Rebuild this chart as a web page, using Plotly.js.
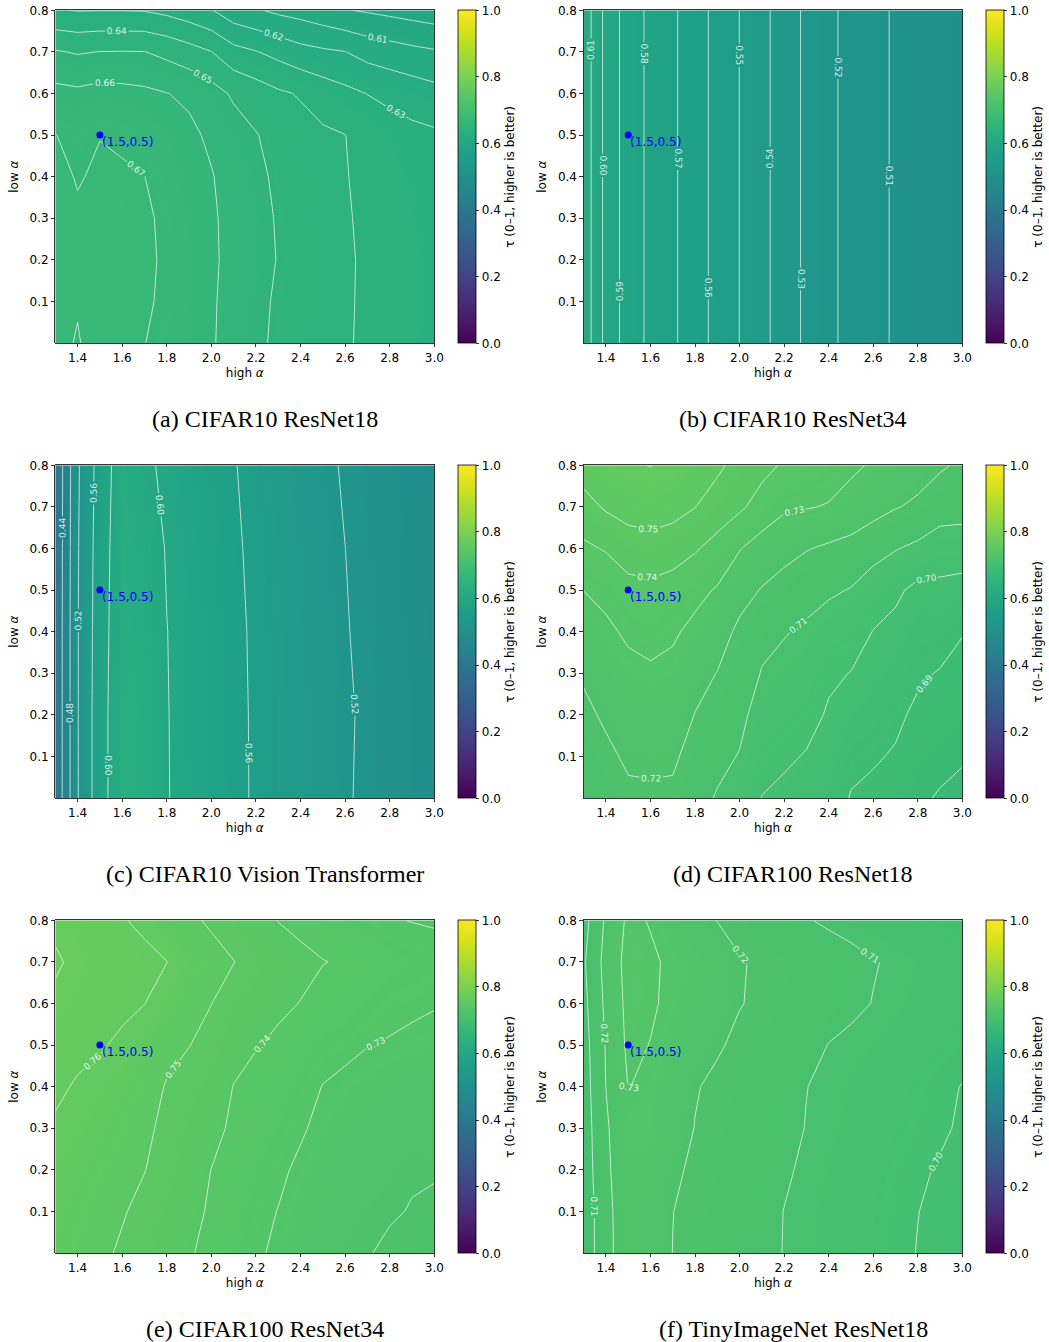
<!DOCTYPE html>
<html><head><meta charset="utf-8">
<script src="https://cdn.plot.ly/plotly-3.0.1.min.js"></script>
<style>body{margin:0;background:#fff}#chart{width:1049px;height:1342px}</style>
</head><body><div id="chart"></div>
<script>
// ---------------- data ----------------
const HIGH_ALPHA = [1.3,1.4,1.5,1.6,1.7,1.8,1.9,2.0,2.1,2.2,2.3,2.4,2.5,2.6,2.7,2.8,2.9,3.0];
const LOW_ALPHA = [0.0,0.1,0.2,0.3,0.4,0.5,0.6,0.7,0.8];
const LOW_ALPHA_B = [0.0,0.8];
const LOW_ALPHA_C = [0.0,0.2,0.4,0.6,0.8];

// (a) CIFAR10 ResNet18
const TAU_A = [
 [0.672,0.6695,0.673,0.6715,0.6702,0.6668,0.6635,0.6608,0.6568,0.6522,0.648,0.6458,0.6435,0.6412,0.638,0.6362,0.6348,0.6335],
 [0.6725,0.6705,0.674,0.6735,0.6715,0.668,0.6645,0.661,0.657,0.6528,0.6485,0.646,0.6437,0.6413,0.6383,0.6364,0.635,0.6338],
 [0.673,0.6715,0.6745,0.674,0.6725,0.668,0.6648,0.6612,0.6578,0.6542,0.6495,0.6465,0.644,0.6414,0.6384,0.6365,0.635,0.6337],
 [0.673,0.6712,0.6742,0.6735,0.672,0.6675,0.6642,0.661,0.6577,0.6538,0.649,0.646,0.6435,0.641,0.638,0.636,0.6345,0.6332],
 [0.6725,0.6694,0.6712,0.6712,0.6701,0.6662,0.6628,0.6605,0.6565,0.6525,0.648,0.6455,0.643,0.6405,0.6375,0.6355,0.634,0.6325],
 [0.6702,0.6675,0.6698,0.6685,0.6672,0.6648,0.6618,0.6585,0.6545,0.6505,0.6465,0.6435,0.6415,0.6401,0.637,0.6345,0.6325,0.6315],
 [0.663,0.662,0.6635,0.663,0.662,0.6602,0.6585,0.654,0.6485,0.645,0.6415,0.6392,0.6355,0.6325,0.6298,0.6275,0.6255,0.6233],
 [0.6508,0.6492,0.6502,0.6503,0.6502,0.6475,0.644,0.6402,0.6333,0.6305,0.627,0.6233,0.6215,0.6202,0.6165,0.6145,0.6125,0.611],
 [0.6305,0.6296,0.6298,0.6298,0.6295,0.6275,0.6245,0.6205,0.614,0.611,0.608,0.6062,0.6035,0.6005,0.599,0.5975,0.596,0.5945]
];
// (b) CIFAR10 ResNet34
const TAU_B = [
 [0.6165,0.597,0.5855,0.5777,0.5716,0.5644,0.557,0.5499,0.5428,0.5353,0.5281,0.522,0.5172,0.513,0.5088,0.5055,0.502,0.499],
 [0.6165,0.597,0.5855,0.5777,0.5716,0.5644,0.557,0.5499,0.5428,0.5353,0.5281,0.522,0.5172,0.513,0.5088,0.5055,0.502,0.499]
];
// (c) CIFAR10 Vision Transformer
const TAU_C = [
 [0.405,0.518,0.583,0.630,0.624,0.6015,0.590,0.5785,0.5675,0.5565,0.548,0.5395,0.531,0.5225,0.5155,0.507,0.499,0.491],
 [0.405,0.518,0.583,0.630,0.6235,0.6012,0.5898,0.5782,0.5672,0.5563,0.5482,0.5398,0.5315,0.5232,0.516,0.5075,0.4995,0.4915],
 [0.405,0.518,0.581,0.628,0.621,0.6005,0.589,0.5775,0.5665,0.5555,0.547,0.5385,0.530,0.5215,0.5145,0.506,0.498,0.490],
 [0.404,0.517,0.579,0.626,0.618,0.598,0.587,0.5755,0.5645,0.5535,0.545,0.5365,0.528,0.5201,0.513,0.505,0.497,0.489],
 [0.403,0.515,0.576,0.622,0.606,0.594,0.583,0.572,0.5617,0.551,0.5425,0.534,0.5255,0.5175,0.511,0.503,0.495,0.487]
];
// (d) CIFAR100 ResNet18
const TAU_D = [
 [0.7135,0.716,0.7182,0.7185,0.7182,0.7135,0.7092,0.7062,0.6998,0.6982,0.6968,0.6948,0.6895,0.6882,0.6855,0.6815,0.6792,0.6777],
 [0.7155,0.718,0.7215,0.7218,0.7215,0.7165,0.7125,0.7095,0.7028,0.7012,0.6995,0.6972,0.692,0.6908,0.6893,0.6845,0.6825,0.6808],
 [0.7178,0.7215,0.7245,0.7248,0.7243,0.7198,0.7158,0.7125,0.7058,0.7042,0.7025,0.6992,0.6955,0.6935,0.6915,0.6885,0.6858,0.6838],
 [0.7212,0.7255,0.7275,0.7285,0.7278,0.7228,0.7198,0.7155,0.7095,0.7072,0.7055,0.7012,0.6998,0.6962,0.6945,0.6912,0.6895,0.6868],
 [0.7255,0.7282,0.7315,0.7335,0.7312,0.7278,0.7238,0.7182,0.7125,0.7106,0.7085,0.7052,0.7035,0.6998,0.6975,0.6935,0.6938,0.6905],
 [0.7301,0.7325,0.7365,0.7375,0.7358,0.7325,0.7292,0.7232,0.7195,0.717,0.7135,0.7115,0.7095,0.7045,0.7018,0.6975,0.6978,0.6962],
 [0.7382,0.7408,0.7455,0.7465,0.7445,0.741,0.7365,0.7305,0.7255,0.7225,0.7205,0.7185,0.717,0.714,0.7105,0.708,0.7048,0.7055],
 [0.7465,0.7512,0.7535,0.7545,0.7535,0.7502,0.7455,0.7415,0.7365,0.7315,0.7305,0.7295,0.7262,0.7232,0.7205,0.7185,0.7145,0.7132],
 [0.7545,0.7575,0.759,0.7602,0.7585,0.7555,0.7518,0.7468,0.7425,0.739,0.7364,0.7339,0.7318,0.7289,0.7263,0.7236,0.7212,0.7185]
];
// (e) CIFAR100 ResNet34
const TAU_E = [
 [0.7552,0.7535,0.7515,0.749,0.7465,0.7437,0.7405,0.7385,0.7345,0.7312,0.7285,0.7255,0.7232,0.7212,0.7205,0.7185,0.7165,0.7148],
 [0.7558,0.7545,0.7525,0.7506,0.748,0.7452,0.7418,0.7392,0.7355,0.7322,0.7298,0.7268,0.7245,0.7225,0.7215,0.7208,0.7196,0.7175],
 [0.7568,0.7558,0.754,0.7522,0.7502,0.747,0.7435,0.7399,0.7368,0.7338,0.7315,0.7285,0.7262,0.7242,0.7228,0.722,0.7208,0.7212],
 [0.7585,0.7575,0.7558,0.754,0.7515,0.7482,0.745,0.7425,0.7385,0.7352,0.7335,0.731,0.7278,0.726,0.7245,0.7235,0.7225,0.7232],
 [0.7622,0.7588,0.7575,0.7558,0.7532,0.7495,0.7468,0.7445,0.7398,0.737,0.7355,0.7328,0.7298,0.7282,0.7268,0.7255,0.7245,0.7252],
 [0.7652,0.763,0.7608,0.7585,0.7558,0.752,0.7502,0.7475,0.7428,0.7405,0.7385,0.7358,0.7328,0.7318,0.7302,0.7295,0.7282,0.7275],
 [0.7682,0.7662,0.764,0.7618,0.7601,0.7568,0.7535,0.7501,0.7462,0.7438,0.7415,0.7398,0.7365,0.7352,0.7335,0.7318,0.7315,0.7305],
 [0.7712,0.768,0.7655,0.7635,0.7618,0.7601,0.7555,0.753,0.7502,0.7465,0.744,0.742,0.7403,0.739,0.737,0.735,0.7338,0.7325],
 [0.768,0.7662,0.764,0.7605,0.7585,0.7546,0.7515,0.7488,0.7456,0.7426,0.7398,0.738,0.7355,0.7338,0.7325,0.7305,0.7298,0.7294]
];
// (f) TinyImageNet ResNet18
const TAU_F = [
 [0.7035,0.717,0.726,0.7245,0.7199,0.7178,0.7158,0.7138,0.7118,0.7098,0.708,0.7063,0.7048,0.7033,0.7016,0.6998,0.6983,0.697],
 [0.7035,0.7172,0.7262,0.7255,0.7201,0.718,0.716,0.714,0.712,0.7099,0.7081,0.7065,0.705,0.7035,0.7018,0.7001,0.6987,0.6973],
 [0.7045,0.718,0.7272,0.7268,0.7212,0.7188,0.717,0.715,0.713,0.7108,0.709,0.7072,0.7056,0.704,0.7024,0.7008,0.6995,0.698],
 [0.705,0.7187,0.728,0.7282,0.7238,0.7198,0.7175,0.7155,0.7136,0.7118,0.7098,0.708,0.7065,0.705,0.7036,0.7022,0.7008,0.6993],
 [0.7055,0.7201,0.7302,0.7285,0.7245,0.7205,0.7185,0.7165,0.7146,0.7126,0.7101,0.7088,0.7072,0.7058,0.7044,0.703,0.7012,0.6998],
 [0.7062,0.7207,0.7318,0.7298,0.7265,0.7235,0.7208,0.7185,0.7165,0.7145,0.713,0.7098,0.7085,0.7072,0.706,0.7048,0.7035,0.7022],
 [0.7075,0.722,0.7325,0.731,0.7282,0.7262,0.7235,0.7203,0.7188,0.7168,0.715,0.7132,0.7115,0.7098,0.708,0.7065,0.705,0.7035],
 [0.7088,0.7232,0.7332,0.7312,0.7285,0.727,0.7245,0.7205,0.719,0.7175,0.7158,0.714,0.7124,0.7104,0.709,0.7072,0.7058,0.7042],
 [0.7065,0.7215,0.7318,0.7295,0.7262,0.7228,0.7198,0.7178,0.7148,0.7125,0.7105,0.7088,0.7072,0.7058,0.7045,0.7032,0.702,0.7008]
];

const CAPTIONS = ["(a) CIFAR10 ResNet18","(b) CIFAR10 ResNet34","(c) CIFAR10 Vision Transformer",
                  "(d) CIFAR100 ResNet18","(e) CIFAR100 ResNet34","(f) TinyImageNet ResNet18"];
const DEFAULT_X = [1.5], DEFAULT_Y = [0.5], DEFAULT_LABEL = "(1.5,0.5)";
const X_TICKS = [1.4,1.6,1.8,2.0,2.2,2.4,2.6,2.8,3.0];
const Y_TICKS = [0.1,0.2,0.3,0.4,0.5,0.6,0.7,0.8];
const CB_TICKS = [0,0.2,0.4,0.6,0.8,1.0];
const CB_TITLE = "τ (0–1, higher is better)";

// contour levels [start, end, step]
const LEVELS = [[0.60,0.675,0.01],[0.51,0.615,0.01],[0.44,0.605,0.04],[0.68,0.765,0.01],[0.72,0.775,0.01],[0.70,0.735,0.01]];
const Z_ALL = [TAU_A,TAU_B,TAU_C,TAU_D,TAU_E,TAU_F];
const Y_ALL = [LOW_ALPHA,LOW_ALPHA_B,LOW_ALPHA_C,LOW_ALPHA,LOW_ALPHA,LOW_ALPHA];

// ---------------- layout ----------------
const W = 1049, H = 1342;
const COLS = [[55.3,434.3],[583.7,962.3]];
const ROWS = [[10.3,343],[465.3,798],[920.3,1253]];
const CBX = [457.5,985.5];
const CAP_X = [265,793];
const CAP_Y = [419,874,1329];
const VIRIDIS = [[0,'#440154'],[0.0627,'#48186a'],[0.1255,'#472d7b'],[0.1882,'#424086'],[0.251,'#3b528b'],
 [0.3137,'#33638d'],[0.3765,'#2c728e'],[0.4392,'#26828e'],[0.502,'#21918c'],[0.5647,'#1fa088'],
 [0.6275,'#28ae80'],[0.6902,'#3fbc73'],[0.7529,'#5ec962'],[0.8157,'#84d44b'],[0.8784,'#addc30'],
 [0.9412,'#d8e219'],[1,'#fde725']];
const FONT = 'DejaVu Sans, sans-serif';

const traces = [];
const layout = {
  width: W, height: H, margin: {l:0,r:0,t:0,b:0},
  paper_bgcolor: '#fff', plot_bgcolor: '#fff', showlegend: false,
  font: {family: FONT, size: 12, color: '#000'},
  annotations: []
};

for (let i = 0; i < 6; i++) {
  const r = Math.floor(i/2), c = i % 2;
  const sfx = i === 0 ? '' : String(i+1);
  const xa = 'x' + sfx, ya = 'y' + sfx;
  traces.push({
    type: 'heatmap', x: HIGH_ALPHA, y: Y_ALL[i], z: Z_ALL[i], xaxis: xa, yaxis: ya,
    zsmooth: 'best', colorscale: VIRIDIS, zmin: 0, zmax: 1, hoverinfo: 'skip',
    colorbar: {
      x: CBX[c]/W, xanchor: 'left', xpad: 0, xref: 'paper',
      y: 1 - ROWS[r][0]/H, yanchor: 'top', ypad: 0, yref: 'paper',
      len: (ROWS[r][1]-ROWS[r][0])/H, lenmode: 'fraction',
      thickness: 18, thicknessmode: 'pixels',
      outlinewidth: 0.8, outlinecolor: '#000',
      ticks: 'outside', ticklen: 3.5, tickwidth: 0.8, tickcolor: '#000',
      tickvals: CB_TICKS, tickformat: '.1f', tickfont: {size: 12, family: FONT},
      title: {text: CB_TITLE, side: 'right', font: {size: 12, family: FONT}}
    }
  });
  traces.push({
    type: 'contour', x: HIGH_ALPHA, y: Y_ALL[i], z: Z_ALL[i], xaxis: xa, yaxis: ya,
    showscale: false, hoverinfo: 'skip',
    contours: {coloring: 'none', start: LEVELS[i][0], end: LEVELS[i][1], size: LEVELS[i][2],
      showlabels: true, labelformat: '.2f',
      labelfont: {size: 9, color: 'rgba(255,255,255,0.85)', family: FONT}},
    line: {color: 'rgba(255,255,255,0.85)', width: 0.8, smoothing: 0}
  });
  traces.push({
    type: 'scatter', mode: 'markers', x: DEFAULT_X, y: DEFAULT_Y, xaxis: xa, yaxis: ya,
    marker: {color: '#0000ff', size: 7}, hoverinfo: 'skip'
  });
  layout['xaxis' + sfx] = {
    domain: [COLS[c][0]/W, COLS[c][1]/W], anchor: ya, range: [1.3, 3.0],
    tickvals: X_TICKS, tickformat: '.1f', ticks: 'outside', ticklen: 3.5, tickwidth: 0.8, tickcolor: '#000',
    showline: true, mirror: true, linecolor: '#000', linewidth: 0.8, showgrid: false, zeroline: false,
    tickfont: {size: 12}, title: {text: 'high <i>α</i>', font: {size: 12}, standoff: 4}
  };
  layout['yaxis' + sfx] = {
    domain: [1 - ROWS[r][1]/H, 1 - ROWS[r][0]/H], anchor: xa, range: [0, 0.8],
    tickvals: Y_TICKS, tickformat: '.1f', ticks: 'outside', ticklen: 3.5, tickwidth: 0.8, tickcolor: '#000',
    showline: true, mirror: true, linecolor: '#000', linewidth: 0.8, showgrid: false, zeroline: false,
    tickfont: {size: 12}, title: {text: 'low <i>α</i>', font: {size: 12}, standoff: 8}
  };
  layout.annotations.push({
    xref: xa, yref: ya, x: DEFAULT_X[0], y: DEFAULT_Y[0], text: DEFAULT_LABEL, showarrow: false,
    xanchor: 'left', yanchor: 'top', font: {color: '#0000ff', size: 12, family: FONT}, yshift: 2
  });
  layout.annotations.push({
    xref: 'paper', yref: 'paper', x: CAP_X[c]/W, y: 1 - CAP_Y[r]/H, text: CAPTIONS[i], showarrow: false,
    xanchor: 'center', yanchor: 'middle', font: {family: 'Liberation Serif, Times New Roman, serif', size: 24, color: '#000'}
  });
}

Plotly.newPlot('chart', traces, layout, {staticPlot: true});
</script></body></html>
